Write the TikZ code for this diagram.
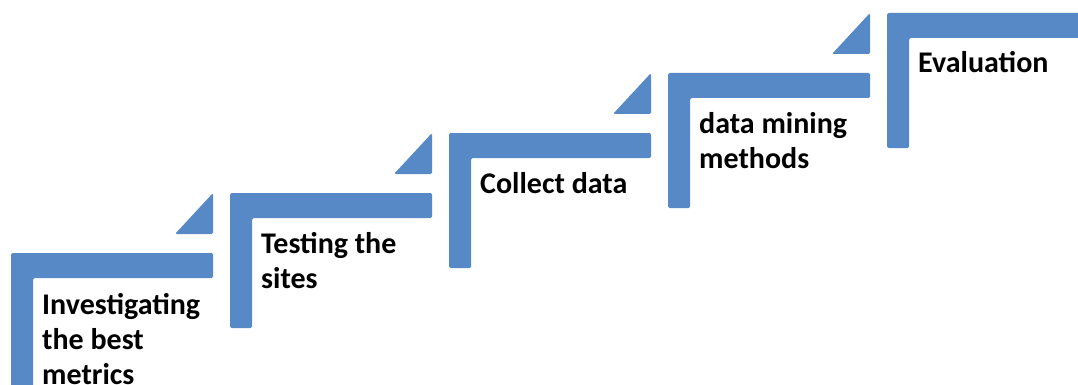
\documentclass[tikz,border=0pt]{standalone}
\usepackage{fontspec}
\setmainfont{Carlito}
\definecolor{stepblue}{RGB}{86,137,197}
\tikzset{
  stepbar/.style={fill=stepblue, draw=none, rounded corners=1.5pt},
  steplabel/.style={anchor=base west, inner sep=0pt, align=left, text=black,
    font=\fontsize{30}{35}\selectfont\bfseries}
}
\begin{document}
\begin{tikzpicture}[x=1pt,y=-1pt]
\useasboundingbox (0,0) rectangle (1078,385);
\begin{scope}
\clip (0,0) rectangle (1078,385);
% L-shaped steps: left, top, right, bottom
\foreach \i/\R/\B in {0/213/400, 1/432/328, 2/651/268, 3/870/208, 4/1090/148}{
  \pgfmathsetmacro{\L}{11+219*\i}
  \pgfmathsetmacro{\T}{253-60*\i}
  \fill[stepbar] (\L,\T) -- (\R,\T) -- (\R,\T+25) -- (\L+22,\T+25) -- (\L+22,\B) -- (\L,\B) -- cycle;
}
% triangles
\foreach \i in {0,1,2,3}{
  \pgfmathsetmacro{\R}{213+219*\i}
  \pgfmathsetmacro{\T}{253-60*\i}
  \fill[stepbar] (\R-38,\T-19) -- (\R,\T-19) -- (\R,\T-60) -- cycle;
}
\end{scope}
% base anchor of a multi-line node sits on its last line
\node[steplabel] (s1) at (42,384) {Investigating\\the best\\metrics};
\node[steplabel] (s2) at (261,288) {Testing the\\sites};
\node[steplabel] (s3) at (480,193) {Collect data};
\node[steplabel] (s4) at (699,168) {data mining\\methods};
\node[steplabel] (s5) at (918,73) {Evaluation};
\end{tikzpicture}
\end{document}
